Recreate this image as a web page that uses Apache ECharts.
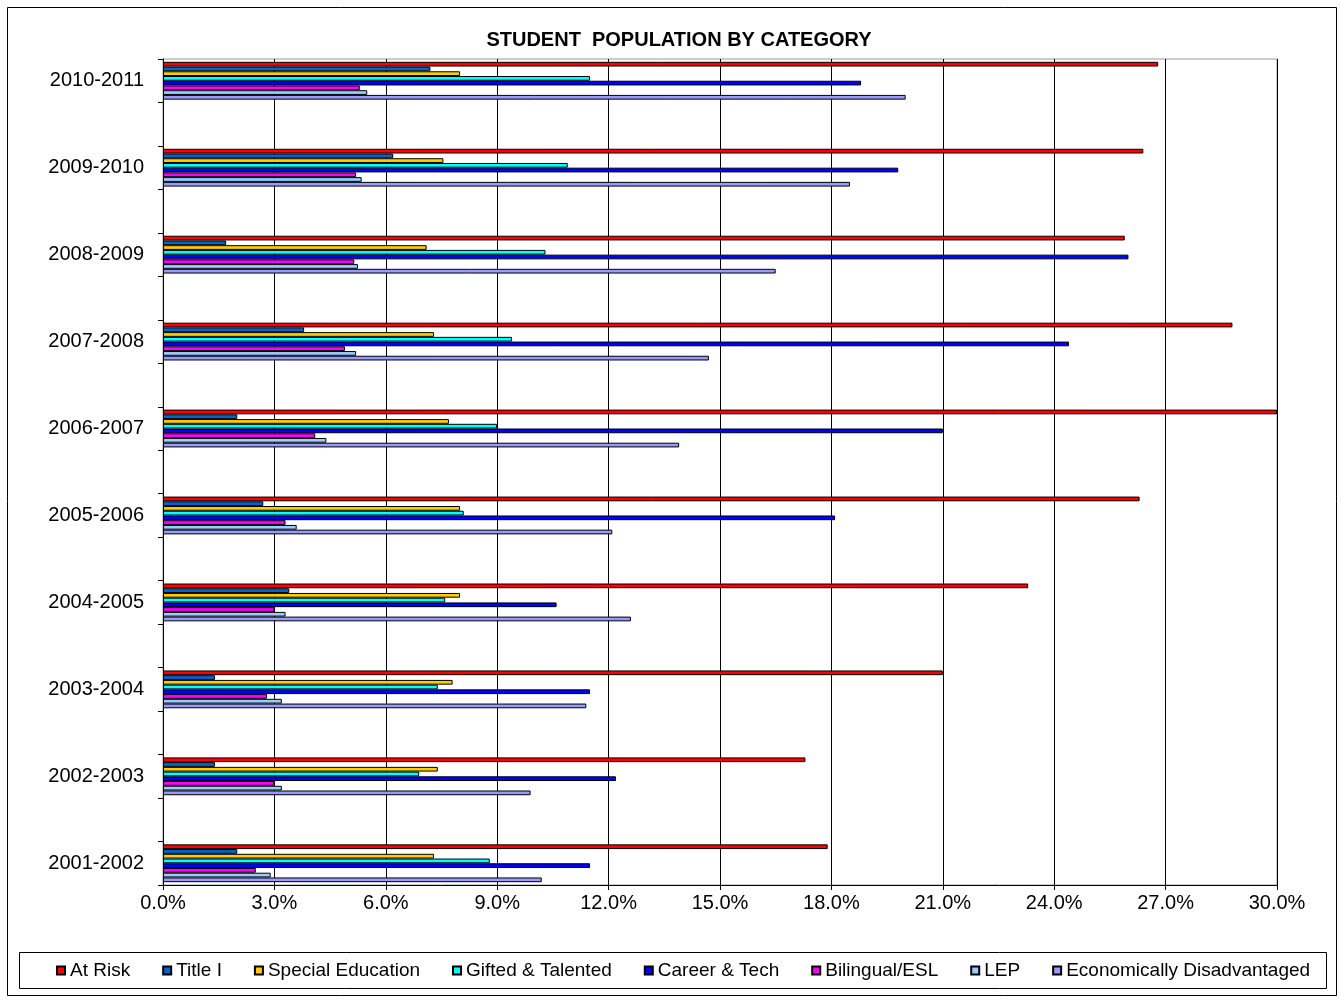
<!DOCTYPE html>
<html>
<head>
<meta charset="utf-8">
<script src="https://cdn.jsdelivr.net/npm/echarts@6/dist/echarts.min.js"></script>
<style>
html,body{margin:0;padding:0;background:#fff;}
#chart{width:1341px;height:1003px;}
</style>
</head>
<body>
<div id="chart"></div>
<script>
// Categories, bottom (first) to top (last)
const years = ['2001-2002','2002-2003','2003-2004','2004-2005','2005-2006','2006-2007','2007-2008','2008-2009','2009-2010','2010-2011'];
const seriesNames = ['At Risk','Title I','Special Education','Gifted & Talented','Career & Tech','Bilingual/ESL','LEP','Economically Disadvantaged'];
// Values in percent, ordered as years
const atRisk      = [17.9, 17.3, 21.0, 23.3, 26.3, 30.0, 28.8, 25.9, 26.4, 26.8];
const titleI      = [2.0, 1.4, 1.4, 3.4, 2.7, 2.0, 3.8, 1.7, 6.2, 7.2];
const specialEd   = [7.3, 7.4, 7.8, 8.0, 8.0, 7.7, 7.3, 7.1, 7.55, 8.0];
const gifted      = [8.8, 6.9, 7.4, 7.6, 8.1, 9.0, 9.4, 10.3, 10.9, 11.5];
const careerTech  = [11.5, 12.2, 11.5, 10.6, 18.1, 21.0, 24.4, 26.0, 19.8, 18.8];
const bilingual   = [2.5, 3.0, 2.8, 3.0, 3.3, 4.1, 4.9, 5.15, 5.2, 5.3];
const lep         = [2.9, 3.2, 3.2, 3.3, 3.6, 4.4, 5.2, 5.25, 5.35, 5.5];
const econDisadv  = [10.2, 9.9, 11.4, 12.6, 12.1, 13.9, 14.7, 16.5, 18.5, 20.0];
const xTicks = [0, 3, 6, 9, 12, 15, 18, 21, 24, 27, 30];

const colors = ['#FF0000','#0066CC','#FFCC00','#00FFFF','#0000FF','#FF00FF','#99CCFF','#9999FF'];
const allValues = [atRisk, titleI, specialEd, gifted, careerTech, bilingual, lep, econDisadv];

// Build category axis top-to-bottom with empty spacer rows between years
const cats = [];
const idxMap = [];
for (let i = years.length - 1; i >= 0; i--) {
  cats.push(years[i]); idxMap.push(i);
  if (i > 0) { cats.push('_gap' + i); idxMap.push(-1); }
}

const series = seriesNames.map((name, s) => ({
  name: name,
  type: 'bar',
  barGap: '0%',
  barCategoryGap: '13%',
  itemStyle: { color: colors[s], borderColor: '#000', borderWidth: 1 },
  emphasis: { disabled: true },
  data: idxMap.map(i => i < 0 ? null : allValues[s][i])
}));

const chart = echarts.init(document.getElementById('chart'));
chart.setOption({
  animation: false,
  backgroundColor: '#fff',
  title: {
    text: 'STUDENT  POPULATION BY CATEGORY',
    left: 674, top: 25, textAlign: 'center',
    textStyle: { fontFamily: 'Liberation Sans', fontSize: 20, fontWeight: 'bold', color: '#000' }
  },
  graphic: [
    { type: 'rect', shape: { x: 7.5, y: 7.5, width: 1329, height: 988 }, style: { fill: 'none', stroke: '#000', lineWidth: 1 }, silent: true, z: -10 },
    { type: 'rect', shape: { x: 19.5, y: 952.5, width: 1307, height: 36 }, style: { fill: 'none', stroke: '#000', lineWidth: 1 }, silent: true, z: -10 }
  ],
  legend: {
    data: seriesNames,
    left: 51, top: 956,
    itemWidth: 8, itemHeight: 8, itemGap: 32,
    icon: 'rect',
    textStyle: { fontFamily: 'Liberation Sans', fontSize: 19, color: '#000' }
  },
  grid: { left: 163, right: 64, top: 59, bottom: 118, show: true, borderColor: '#999', borderWidth: 1, backgroundColor: '#fff' },
  xAxis: {
    type: 'value', min: 0, max: 30, interval: 3,
    axisLine: { show: true, lineStyle: { color: '#000', width: 1 } },
    axisTick: { show: true, length: 5, lineStyle: { color: '#000' } },
    splitLine: { show: true, lineStyle: { color: '#000', width: 1 } },
    axisLabel: {
      margin: 8,
      fontFamily: 'Liberation Sans', fontSize: 20, color: '#000',
      formatter: v => xTicks.indexOf(v) >= 0 ? v.toFixed(1) + '%' : ''
    }
  },
  yAxis: {
    type: 'category', inverse: true, data: cats,
    axisLine: { show: true, lineStyle: { color: '#000', width: 1 } },
    axisTick: { show: true, interval: 0, length: 5, inside: false, lineStyle: { color: '#000' } },
    splitLine: { show: false },
    axisLabel: {
      interval: 0, margin: 19,
      fontFamily: 'Liberation Sans', fontSize: 20, color: '#000',
      formatter: v => v.indexOf('_gap') === 0 ? '' : v
    }
  },
  series: series
});
</script>
</body>
</html>
